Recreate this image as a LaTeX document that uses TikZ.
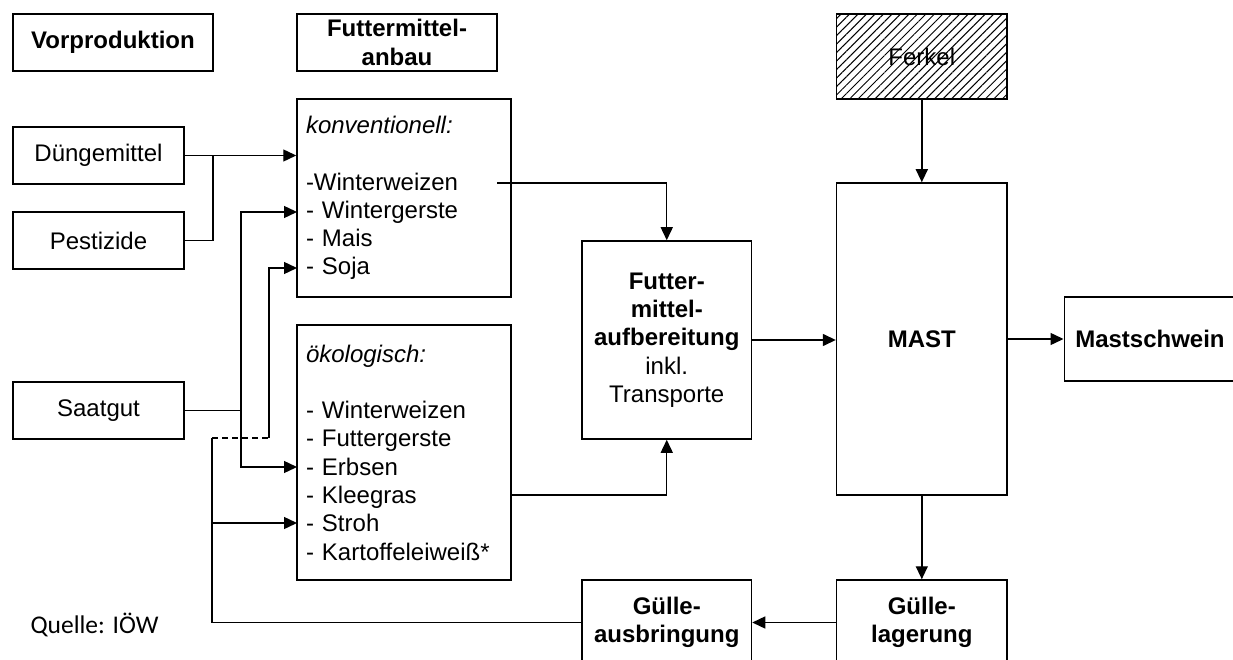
\documentclass[tikz,border=0pt]{standalone}
\usepackage{fontspec}
\setmainfont{Liberation Sans}
\newfontfamily\quellefont{Carlito}
\usetikzlibrary{arrows.meta,patterns.meta}
\tikzset{
  box/.style={draw,line width=1.5pt,inner sep=0pt,align=center,
    font=\fontsize{24}{28.3}\selectfont},
  listbox/.style={draw,line width=1.5pt,inner xsep=9pt,inner ysep=0pt,
    align=left,text width=196pt,font=\fontsize{24}{28.3}\selectfont},
  line/.style={line width=1.4pt},
  arr/.style={line,-{Triangle[length=13pt,width=12pt]}}
}

\begin{document}
\begin{tikzpicture}[x=1pt,y=-1pt]
\path[use as bounding box] (0,0) rectangle (1233,660);
\clip (0,0) rectangle (1233,660);
% headings
\node[box,minimum width=200pt,minimum height=57pt] (vorp) at (113,42.5) {\bfseries Vorproduktion};
\node[box,minimum width=200pt,minimum height=57pt] (anbau) at (397,42.5) {\bfseries Futtermittel-\\\bfseries anbau};
% inputs
\node[box,minimum width=171pt,minimum height=57pt] (dng) at (98.5,155.5) {Düngemittel};
\node[box,minimum width=171pt,minimum height=57pt] (pest) at (98.5,240.5) {Pestizide};
\node[box,minimum width=171pt,minimum height=57pt] (saat) at (98.5,410.5) {Saatgut};
% crops
\node[listbox,minimum height=198pt] (konv) at (404,198) {\textit{konventionell:}\\[28.3pt]-Winterweizen\\- Wintergerste\\- Mais\\- Soja};
\node[listbox,minimum height=255pt] (oeko) at (404,452.5) {\textit{ökologisch:}\\[28.3pt]- Winterweizen\\- Futtergerste\\- Erbsen\\- Kleegras\\- Stroh\\- Kartoffeleiweiß*};
% processing
\node[box,minimum width=169.5pt,minimum height=198pt] (futt) at (666.75,340) {\bfseries Futter-\\\bfseries mittel-\\\bfseries aufbereitung\\inkl.\\Transporte};
\node[box,minimum width=170.5pt,minimum height=85pt,pattern={Lines[angle=45,distance=6pt,line width=1pt]},text=black] (ferkel) at (921.8,56.5) {Ferkel};
\node[box,minimum width=170.5pt,minimum height=312pt] (mast) at (921.8,339) {\bfseries MAST};
\node[box,anchor=west,minimum height=84pt,text width=300pt,inner xsep=11pt,align=left] (msw) at (1063.5,339) {\bfseries Mastschwein};
\node[box,minimum width=170.5pt,minimum height=85pt] (lag) at (921.8,622.5) {\bfseries Gülle-\\\bfseries lagerung};
\node[box,minimum width=169.5pt,minimum height=85pt] (ausb) at (666.75,622.5) {\bfseries Gülle-\\\bfseries ausbringung};
\node[font=\quellefont\fontsize{25.5}{30}\selectfont,inner sep=0pt] (quelle) at (94.5,625) {Quelle: IÖW};
% branch points
\coordinate (dknick) at (213,155.5);
\coordinate (sknick) at (241,410.5);
\coordinate (gknick) at (212,438);
\coordinate (gknick2) at (269,438);
\coordinate (kgerste) at (297,212);
\coordinate (ksoja) at (297,268);
\coordinate (oerbsen) at (297,467);
\coordinate (ostroh) at (297,523);
\coordinate (kweizen) at (497,183);
\coordinate (oaus) at (511,495);
% connectors
\draw[arr] (dng.east) -- (dng.east -| konv.west);
\draw[line] (pest.east) -| (dknick);
\draw[line] (saat.east) -- (sknick);
\draw[arr] (sknick) |- (kgerste);
\draw[arr] (sknick) |- (oerbsen);
\draw[line] (ausb.west) -| (gknick);
\draw[line,dash pattern=on 6pt off 4pt] (gknick) -- (gknick2);
\draw[arr] (gknick2) |- (ksoja);
\draw[arr] (gknick |- ostroh) -- (ostroh);
\draw[arr] (kweizen) -| (futt.north);
\draw[arr] (oaus) -| (futt.south);
\draw[arr] (futt.east) -- (futt.east -| mast.west);
\draw[arr] (mast.east) -- (mast.east -| msw.west);
\draw[arr] (ferkel) -- (mast);
\draw[arr] (mast) -- (lag);
\draw[arr] (lag) -- (ausb);
\end{tikzpicture}
\end{document}
